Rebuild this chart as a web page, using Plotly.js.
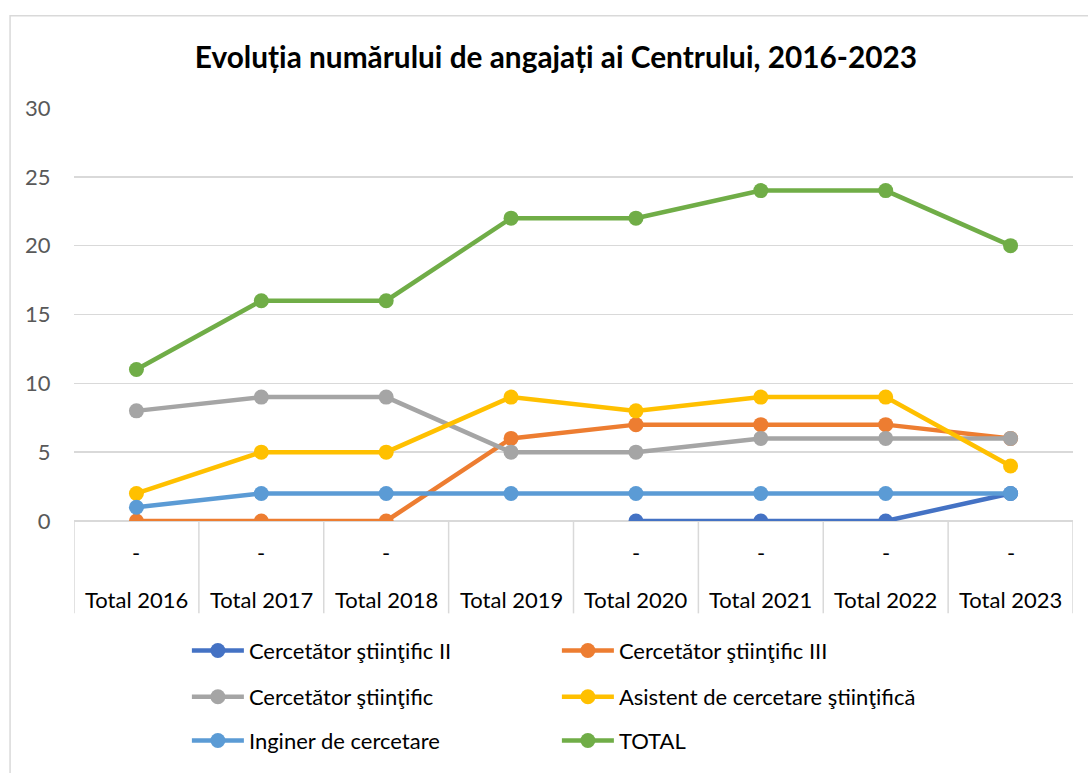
<!DOCTYPE html>
<html>
<head>
<meta charset="utf-8">
<script src="https://cdn.plot.ly/plotly-3.0.1.min.js"></script>
<style>
  html, body { margin: 0; padding: 0; background: #fff; }
</style>
</head>
<body>
<div id="grafic"></div>
<script>
// ani (categorii) si etichetele de pe axa X
var ani = ['Total 2016', 'Total 2017', 'Total 2018', 'Total 2019',
    'Total 2020', 'Total 2021', 'Total 2022', 'Total 2023'];
var subEtichete = ['-', '-', '-', '', '-', '-', '-', '-'];

// valorile pe serii
var cercetatorII = [null, null, null, null, 0, 0, 0, 2];
var cercetatorIII = [0, 0, 0, 6, 7, 7, 7, 6];
var cercetator = [8, 9, 9, 5, 5, 6, 6, 6];
var asistent = [2, 5, 5, 9, 8, 9, 9, 4];
var inginer = [1, 2, 2, 2, 2, 2, 2, 2];
var total = [11, 16, 16, 22, 22, 24, 24, 20];

var font = 'Lato, "Open Sans", sans-serif';

function serie(nume, valori, culoare, leg) {
    return {
        type: 'scatter',
        mode: 'lines+markers',
        x: ani.map((a, i) => i),
        y: valori,
        name: nume,
        legend: leg,
        connectgaps: false,
        line: { color: culoare, width: 4.5 },
        marker: { color: culoare, size: 15 },
        hoverinfo: 'skip'
    };
}

var data = [
    serie('Cercetător ştiinţific II', cercetatorII, '#4472C4', 'legend'),
    serie('Cercetător ştiinţific III', cercetatorIII, '#ED7D31', 'legend'),
    serie('Cercetător ştiinţific', cercetator, '#A5A5A5', 'legend2'),
    serie('Asistent de cercetare ştiinţifică', asistent, '#FFC000', 'legend2'),
    serie('Inginer de cercetare', inginer, '#5B9BD5', 'legend3'),
    serie('TOTAL', total, '#70AD47', 'legend3')
];

// etichete pe doua randuri sub axa
var adnotari = [];
ani.forEach(function (a, i) {
    adnotari.push({
        xref: 'x', yref: 'paper', x: i, y: -0.077,
        text: subEtichete[i], showarrow: false,
        yanchor: 'middle', font: { family: font, size: 22, color: '#000' }
    });
    adnotari.push({
        xref: 'x', yref: 'paper', x: i, y: -0.19,
        text: a, showarrow: false,
        yanchor: 'middle', font: { family: font, size: 22, color: '#000' }
    });
});

// linii despartitoare intre categorii
var forme = [];
for (var i = 0; i <= ani.length; i++) {
    forme.push({
        type: 'line', xref: 'x', yref: 'paper', layer: 'below',
        x0: i - 0.5, x1: i - 0.5, y0: 0, y1: -0.2236,
        line: { color: '#d9d9d9', width: 1.5 }
    });
}
// chenarul graficului
forme.push({
    type: 'rect', xref: 'paper', yref: 'paper', layer: 'below',
    x0: -0.064, x1: 1.05, y0: -0.62, y1: 1.2236,
    line: { color: '#d9d9d9', width: 1.5 }, fillcolor: 'rgba(0,0,0,0)'
});

var legendaBaza = {
    orientation: 'h',
    x: 0.113, xanchor: 'left', yanchor: 'middle',
    entrywidth: 303, entrywidthmode: 'pixels',
    itemwidth: 52,
    font: { family: font, size: 22, color: '#000' },
    bgcolor: 'rgba(0,0,0,0)'
};

var layout = {
    width: 1088,
    height: 773,
    margin: { l: 74, r: 15, t: 108, b: 249 },
    paper_bgcolor: '#fff',
    plot_bgcolor: '#fff',
    title: {
        text: '<b>Evoluția numărului de angajați ai Centrului, 2016-2023</b>',
        font: { family: font, size: 29.8, color: '#000' },
        xref: 'container', x: 0.511, xanchor: 'center',
        yref: 'container', y: 0.926, yanchor: 'middle'
    },
    xaxis: {
        type: 'linear',
        range: [-0.5, 7.5],
        showticklabels: false,
        showgrid: false,
        zeroline: false,
        showline: false,
        fixedrange: true
    },
    yaxis: {
        range: [0, 30],
        dtick: 5,
        tick0: 0,
        showgrid: true,
        gridcolor: '#d9d9d9',
        gridwidth: 1.5,
        zeroline: true,
        zerolinecolor: '#d9d9d9',
        zerolinewidth: 1.5,
        ticks: 'outside',
        ticklen: 18,
        tickcolor: 'rgba(0,0,0,0)',
        tickfont: { family: font, size: 22, color: '#595959' },
        fixedrange: true
    },
    showlegend: true,
    legend: Object.assign({}, legendaBaza, { y: -0.314 }),
    legend2: Object.assign({}, legendaBaza, { y: -0.426 }),
    legend3: Object.assign({}, legendaBaza, { y: -0.532 }),
    annotations: adnotari,
    shapes: forme,
    hovermode: false
};

Plotly.newPlot('grafic', data, layout, { displayModeBar: false, staticPlot: true });
</script>
</body>
</html>
